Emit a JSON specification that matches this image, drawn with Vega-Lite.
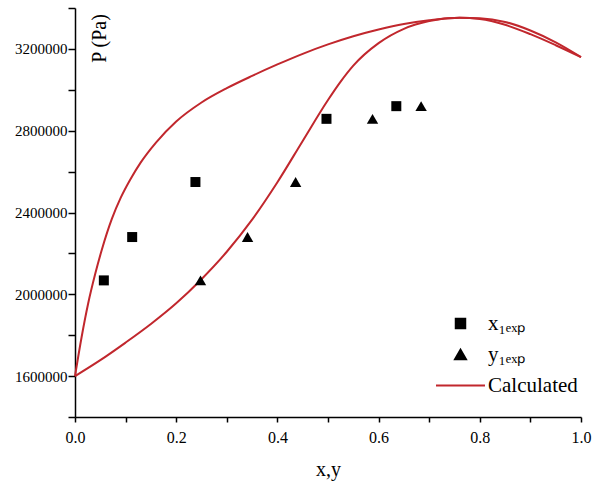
{
  "$schema": "https://vega.github.io/schema/vega-lite/v6.json",
  "width": 506,
  "height": 409,
  "autosize": {"type": "none"},
  "padding": {"left": 75, "top": 8, "right": 14, "bottom": 68},
  "background": "white",
  "config": {
    "view": {"stroke": null},
    "font": "Liberation Serif",
    "axis": {
      "grid": false,
      "domainColor": "black",
      "tickColor": "black",
      "labelColor": "black",
      "titleColor": "black",
      "domainWidth": 1.5,
      "tickWidth": 1.5,
      "labelFont": "Liberation Serif",
      "titleFont": "Liberation Serif",
      "titleFontWeight": "normal",
      "labelOverlap": false
    },
    "legend": {
      "orient": "none",
      "legendX": 375,
      "legendY": 305,
      "padding": 0,
      "labelFontSize": 21,
      "labelFont": "Liberation Serif",
      "labelColor": "black",
      "symbolSize": 100,
      "labelOffset": 17,
      "rowPadding": 9
    }
  },
  "datasets": {
    "curves": [
      {"x": 0, "P": 1600000, "branch": "bubble", "series": "Calculated"},
      {"x": 0.013, "P": 1790000, "branch": "bubble", "series": "Calculated"},
      {"x": 0.026, "P": 1955000, "branch": "bubble", "series": "Calculated"},
      {"x": 0.04, "P": 2100000, "branch": "bubble", "series": "Calculated"},
      {"x": 0.053, "P": 2218000, "branch": "bubble", "series": "Calculated"},
      {"x": 0.073, "P": 2370000, "branch": "bubble", "series": "Calculated"},
      {"x": 0.09, "P": 2470000, "branch": "bubble", "series": "Calculated"},
      {"x": 0.109, "P": 2560000, "branch": "bubble", "series": "Calculated"},
      {"x": 0.13, "P": 2645000, "branch": "bubble", "series": "Calculated"},
      {"x": 0.16, "P": 2742000, "branch": "bubble", "series": "Calculated"},
      {"x": 0.2, "P": 2845000, "branch": "bubble", "series": "Calculated"},
      {"x": 0.25, "P": 2938000, "branch": "bubble", "series": "Calculated"},
      {"x": 0.3, "P": 3008000, "branch": "bubble", "series": "Calculated"},
      {"x": 0.35, "P": 3068000, "branch": "bubble", "series": "Calculated"},
      {"x": 0.4, "P": 3124000, "branch": "bubble", "series": "Calculated"},
      {"x": 0.45, "P": 3176000, "branch": "bubble", "series": "Calculated"},
      {"x": 0.5, "P": 3222000, "branch": "bubble", "series": "Calculated"},
      {"x": 0.55, "P": 3262000, "branch": "bubble", "series": "Calculated"},
      {"x": 0.6, "P": 3295000, "branch": "bubble", "series": "Calculated"},
      {"x": 0.65, "P": 3322000, "branch": "bubble", "series": "Calculated"},
      {"x": 0.7, "P": 3340000, "branch": "bubble", "series": "Calculated"},
      {"x": 0.76, "P": 3352000, "branch": "bubble", "series": "Calculated"},
      {"x": 0.8, "P": 3350000, "branch": "bubble", "series": "Calculated"},
      {"x": 0.85, "P": 3332000, "branch": "bubble", "series": "Calculated"},
      {"x": 0.9, "P": 3290000, "branch": "bubble", "series": "Calculated"},
      {"x": 0.95, "P": 3232000, "branch": "bubble", "series": "Calculated"},
      {"x": 1.0, "P": 3160000, "branch": "bubble", "series": "Calculated"},
      {"x": 0, "P": 1600000, "branch": "dew", "series": "Calculated"},
      {"x": 0.05, "P": 1678000, "branch": "dew", "series": "Calculated"},
      {"x": 0.1, "P": 1764000, "branch": "dew", "series": "Calculated"},
      {"x": 0.15, "P": 1855000, "branch": "dew", "series": "Calculated"},
      {"x": 0.2, "P": 1956000, "branch": "dew", "series": "Calculated"},
      {"x": 0.248, "P": 2069000, "branch": "dew", "series": "Calculated"},
      {"x": 0.3, "P": 2208000, "branch": "dew", "series": "Calculated"},
      {"x": 0.35, "P": 2365000, "branch": "dew", "series": "Calculated"},
      {"x": 0.4, "P": 2548000, "branch": "dew", "series": "Calculated"},
      {"x": 0.45, "P": 2750000, "branch": "dew", "series": "Calculated"},
      {"x": 0.5, "P": 2950000, "branch": "dew", "series": "Calculated"},
      {"x": 0.525, "P": 3040000, "branch": "dew", "series": "Calculated"},
      {"x": 0.55, "P": 3118000, "branch": "dew", "series": "Calculated"},
      {"x": 0.6, "P": 3228000, "branch": "dew", "series": "Calculated"},
      {"x": 0.65, "P": 3298000, "branch": "dew", "series": "Calculated"},
      {"x": 0.7, "P": 3336000, "branch": "dew", "series": "Calculated"},
      {"x": 0.76, "P": 3352000, "branch": "dew", "series": "Calculated"},
      {"x": 0.8, "P": 3346000, "branch": "dew", "series": "Calculated"},
      {"x": 0.85, "P": 3318000, "branch": "dew", "series": "Calculated"},
      {"x": 0.9, "P": 3272000, "branch": "dew", "series": "Calculated"},
      {"x": 0.95, "P": 3218000, "branch": "dew", "series": "Calculated"},
      {"x": 1.0, "P": 3160000, "branch": "dew", "series": "Calculated"}
    ],
    "points": [
      {"x": 0.057, "P": 2068000, "series": "x1exp"},
      {"x": 0.113, "P": 2280000, "series": "x1exp"},
      {"x": 0.238, "P": 2549000, "series": "x1exp"},
      {"x": 0.497, "P": 2858000, "series": "x1exp"},
      {"x": 0.635, "P": 2920000, "series": "x1exp"},
      {"x": 0.248, "P": 2068000, "series": "y1exp"},
      {"x": 0.341, "P": 2280000, "series": "y1exp"},
      {"x": 0.436, "P": 2549000, "series": "y1exp"},
      {"x": 0.588, "P": 2858000, "series": "y1exp"},
      {"x": 0.684, "P": 2920000, "series": "y1exp"}
    ]
  },
  "encoding": {
    "x": {
      "field": "x",
      "type": "quantitative",
      "scale": {"domain": [0, 1], "nice": false, "zero": false},
      "axis": {
        "values": [0, 0.1, 0.2, 0.3, 0.4, 0.5, 0.6, 0.7, 0.8, 0.9, 1.0],
        "format": ".1f",
        "labelExpr": "round(datum.value * 10) % 2 === 0 ? datum.label : ''",
        "labelFlush": false,
        "tickSize": 5,
        "labelPadding": 7,
        "labelFontSize": 16,
        "title": "x,y",
        "titleFontSize": 20,
        "titleX": 253,
        "titleY": 58,
        "titleBaseline": "alphabetic",
        "titleAlign": "center"
      }
    },
    "y": {
      "field": "P",
      "type": "quantitative",
      "scale": {"domain": [1400000, 3400000], "nice": false, "zero": false},
      "axis": {
        "values": [1400000, 1600000, 1800000, 2000000, 2200000, 2400000, 2600000, 2800000, 3000000, 3200000, 3400000],
        "format": "d",
        "labelExpr": "datum.value % 400000 === 0 ? datum.label : ''",
        "tickSize": 7,
        "labelPadding": 1,
        "labelFontSize": 15,
        "title": "P (Pa)",
        "titleFontSize": 20,
        "titleAngle": -90,
        "titleX": 24,
        "titleY": 30,
        "titleAlign": "center",
        "titleBaseline": "middle"
      }
    },
    "color": {
      "field": "series",
      "type": "nominal",
      "scale": {"domain": ["x1exp", "y1exp", "Calculated"], "range": ["black", "black", "#c1272d"]},
      "legend": {
        "title": null,
        "labelFont": "Liberation Serif",
        "labelExpr": "datum.value === 'x1exp' ? 'x₁ₑₓₚ' : (datum.value === 'y1exp' ? 'y₁ₑₓₚ' : 'Calculated')",
        "encode": {
          "symbols": {
            "update": {
              "size": {"signal": "datum.value === 'Calculated' ? 2400 : (datum.value === 'x1exp' ? 90 : 120)"},
              "stroke": {"signal": "datum.value === 'Calculated' ? '#c1272d' : 'transparent'"},
              "strokeWidth": {"value": 2},
              "opacity": {"value": 1}
            }
          },
          "labels": {
            "update": {
              "font": {"value": "Liberation Serif"}
            }
          }
        }
      }
    }
  },
  "layer": [
    {
      "data": {"name": "curves"},
      "mark": {"type": "line", "strokeWidth": 2, "interpolate": "monotone"},
      "encoding": {
        "detail": {"field": "branch"}
      }
    },
    {
      "data": {"name": "points"},
      "transform": [{"filter": "datum.series === 'x1exp'"}],
      "mark": {"type": "point", "filled": true, "opacity": 1, "size": 100},
      "encoding": {
        "shape": {
          "field": "series",
          "type": "nominal",
          "scale": {"domain": ["x1exp", "y1exp", "Calculated"], "range": ["square", "triangle-up", "stroke"]},
          "legend": {
            "title": null,
            "labelFont": "Liberation Serif",
            "labelExpr": "datum.value === 'x1exp' ? 'x₁ₑₓₚ' : (datum.value === 'y1exp' ? 'y₁ₑₓₚ' : 'Calculated')",
            "encode": {
              "symbols": {
                "update": {
                  "size": {"signal": "datum.value === 'Calculated' ? 2400 : (datum.value === 'x1exp' ? 90 : 120)"},
                  "stroke": {"signal": "datum.value === 'Calculated' ? '#c1272d' : 'transparent'"},
                  "strokeWidth": {"value": 2},
                  "opacity": {"value": 1}
                }
              },
              "labels": {
                "update": {
                  "font": {"value": "Liberation Serif"}
                }
              }
            }
          }
        }
      }
    },
    {
      "data": {"name": "points"},
      "transform": [{"filter": "datum.series === 'y1exp'"}],
      "mark": {"type": "point", "filled": true, "opacity": 1, "size": 130},
      "encoding": {
        "shape": {"field": "series", "type": "nominal"}
      }
    }
  ]
}
